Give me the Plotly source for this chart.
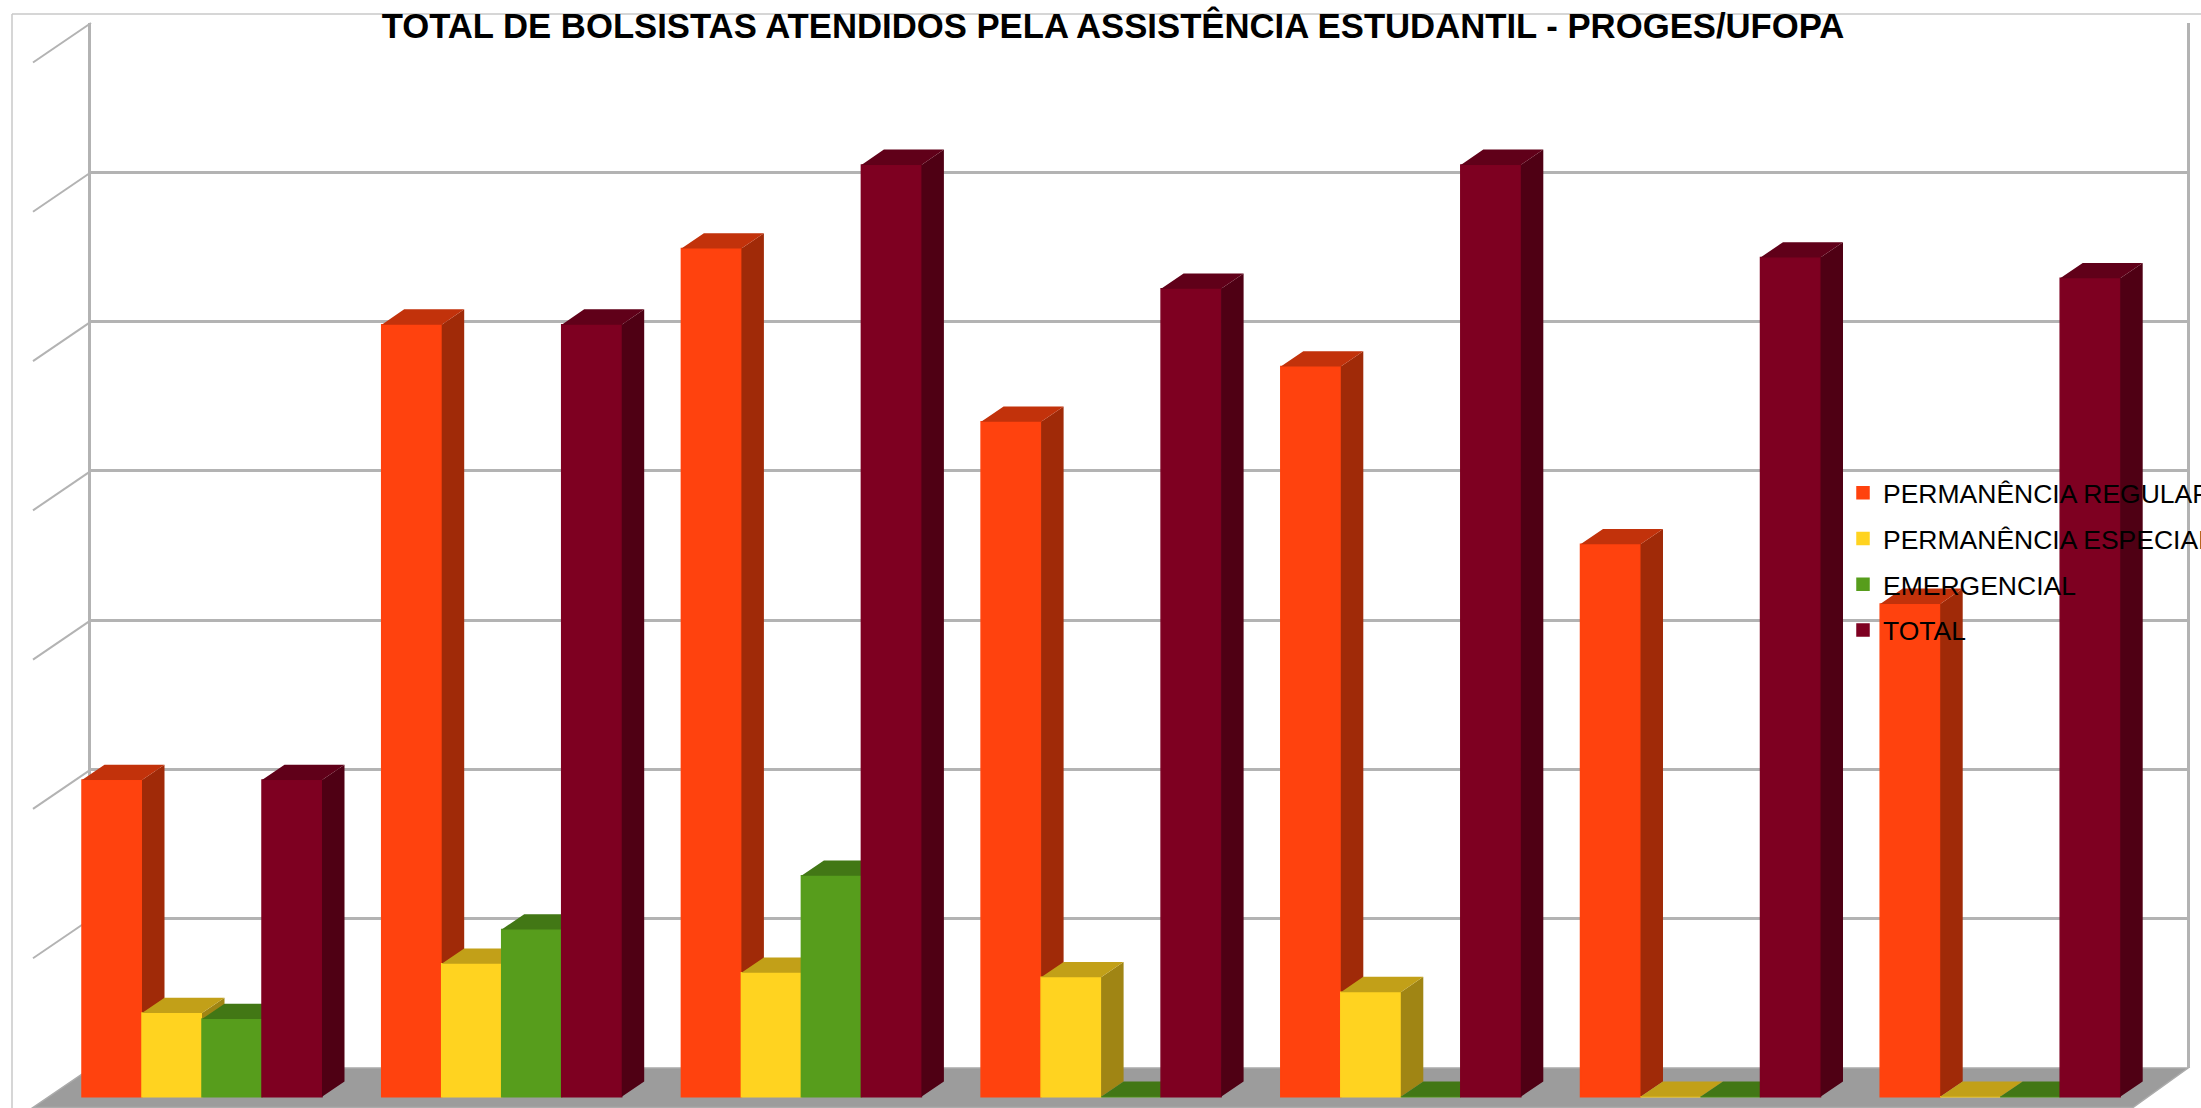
import plotly.graph_objects as go

TITLE = "TOTAL DE BOLSISTAS ATENDIDOS PELA ASSISTÊNCIA ESTUDANTIL - PROGES/UFOPA"
groups = [0, 1, 2, 3, 4, 5, 6]
permanencia_regular = [212, 517, 568, 452, 489, 370, 330]
permanencia_especial = [56, 89, 83, 80, 70, 0, 0]
emergencial = [52, 112, 148, 0, 0, 0, 0]
total = [212, 517, 624, 541, 624, 562, 548]

series_names = ["PERMANÊNCIA REGULAR", "PERMANÊNCIA ESPECIAL", "EMERGENCIAL", "TOTAL"]
series_values = [permanencia_regular, permanencia_especial, emergencial, total]
front_colors = ["#FF420E", "#FFD320", "#579D1C", "#7E0021"]
top_colors = ["#C2320B", "#C2A018", "#427715", "#600019"]
side_colors = ["#A02A08", "#A08514", "#37630F", "#4F0014"]

W, H = 2201, 1108
GROUP_PX = 299.7
X0_PX = 202.0          # centre of the first group, on the front plane
Y0_PX = 1096.7         # base of the bars
UNIT_PX = 1.4933       # pixels per value unit
BAR = 60.0 / GROUP_PX
DX = 22.5 / GROUP_PX   # bar depth in x units
DY = 15.3 / UNIT_PX    # bar depth in y units

WALL_L, WALL_R, WALL_T, WALL_B = 91.0, 2187.0, 23.0, 1068.0

fig = go.Figure()

# carries the back wall's own axes and grid
fig.add_trace(go.Scatter(x=[0], y=[0], mode="markers", marker=dict(opacity=0), hoverinfo="skip",
                         showlegend=False, xaxis="x", yaxis="y"))

for k, (name, vals) in enumerate(zip(series_names, series_values)):
    ax = k + 2
    xa, ya = f"x{ax}", f"y{ax}"
    off = (k - 2) * BAR
    fig.add_trace(go.Bar(
        x=groups, y=vals, name=name, width=BAR, offset=off,
        marker=dict(color=front_colors[k], line=dict(width=1.5, color=front_colors[k])),
        xaxis=xa, yaxis=ya, legendgroup=name,
    ))
    sx, sy, tx, ty = [], [], [], []
    for g, v in zip(groups, vals):
        l = g + off
        r = l + BAR
        sx += [r, r + DX, r + DX, r, r, None]
        sy += [0, DY, v + DY, v, 0, None]
        tx += [l, r, r + DX, l + DX, l, None]
        ty += [v, v, v + DY, v + DY, v, None]
    fig.add_trace(go.Scatter(x=sx, y=sy, mode="lines", fill="toself", fillcolor=side_colors[k],
                             line=dict(width=0), hoverinfo="skip", showlegend=False,
                             xaxis=xa, yaxis=ya))
    fig.add_trace(go.Scatter(x=tx, y=ty, mode="lines", fill="toself", fillcolor=top_colors[k],
                             line=dict(width=0), hoverinfo="skip", showlegend=False,
                             xaxis=xa, yaxis=ya))

def px(x): return x / W
def py(y): return 1 - y / H

GRID = "#B3B3B3"
shapes = []
# floor
shapes.append(dict(type="path", xref="paper", yref="paper", layer="below",
                   path=f"M{px(WALL_L)},{py(WALL_B)} L{px(2188)},{py(WALL_B)} L{px(2133)},{py(1107.5)} L{px(33)},{py(1107.5)} Z",
                   fillcolor="#9C9C9C", line=dict(color="#ABABAB", width=1.5)))
# side-wall grid lines
for i in range(0, 7):
    yy = WALL_T + i * (WALL_B - WALL_T) / 7
    shapes.append(dict(type="line", xref="paper", yref="paper", layer="below",
                       x0=px(WALL_L), y0=py(yy), x1=px(33), y1=py(yy + 39.5),
                       line=dict(color=GRID, width=2)))
# outer frame
shapes.append(dict(type="line", xref="paper", yref="paper", layer="below",
                   x0=px(12), y0=py(14), x1=1, y1=py(14), line=dict(color="#C8C8C8", width=1.5)))
shapes.append(dict(type="line", xref="paper", yref="paper", layer="below",
                   x0=px(12), y0=py(14), x1=px(12), y1=0, line=dict(color="#C8C8C8", width=1.5)))

layout = dict(
    width=W, height=H, autosize=False,
    margin=dict(l=0, r=0, t=0, b=0, pad=0, autoexpand=False),
    paper_bgcolor="white", plot_bgcolor="rgba(0,0,0,0)",
    font=dict(family="Liberation Sans", color="black"),
    title=dict(text=TITLE, x=1113 / W, xanchor="center", y=py(38), yanchor="bottom",
               font=dict(family="Liberation Sans", size=34.7, color="black", weight="bold"),
               pad=dict(t=0, b=0, l=0, r=0)),
    barmode="overlay",
    showlegend=True,
    legend=dict(x=1843 / W, xanchor="left", y=py(469), yanchor="top",
                bgcolor="rgba(0,0,0,0)", borderwidth=0,
                font=dict(family="Liberation Sans", size=26.5, color="black"),
                tracegroupgap=8.3, traceorder="grouped", itemclick=False, itemdoubleclick=False),
    shapes=shapes,
    # back wall
    xaxis=dict(domain=[px(WALL_L), px(WALL_R)], range=[0, 1], anchor="y",
               showgrid=False, zeroline=False, showticklabels=False, ticks="",
               showline=False),
    yaxis=dict(domain=[py(WALL_B), py(WALL_T)], range=[0, 700], dtick=100, anchor="x",
               showgrid=True, gridcolor=GRID, gridwidth=2.5, zeroline=False,
               showticklabels=False, ticks="", showline=True, linecolor=GRID, linewidth=2.5, mirror=True),
)
x_lo = (0 - X0_PX) / GROUP_PX
x_hi = (W - X0_PX) / GROUP_PX
y_lo = (Y0_PX - H) / UNIT_PX
y_hi = Y0_PX / UNIT_PX
for k in range(4):
    ax = k + 2
    xa = dict(domain=[0, 1], range=[x_lo, x_hi], anchor=f"y{ax}", visible=False, fixedrange=True)
    ya = dict(domain=[0, 1], range=[y_lo, y_hi], anchor=f"x{ax}", visible=False, fixedrange=True)
    if k > 0:
        xa["overlaying"] = "x2"
        ya["overlaying"] = "y2"
    layout[f"xaxis{ax}"] = xa
    layout[f"yaxis{ax}"] = ya
fig.update_layout(**layout)
fig.write_html("out.html", config={"displayModeBar": False},
               post_script="document.body.style.margin='0';document.body.style.overflow='hidden';")
